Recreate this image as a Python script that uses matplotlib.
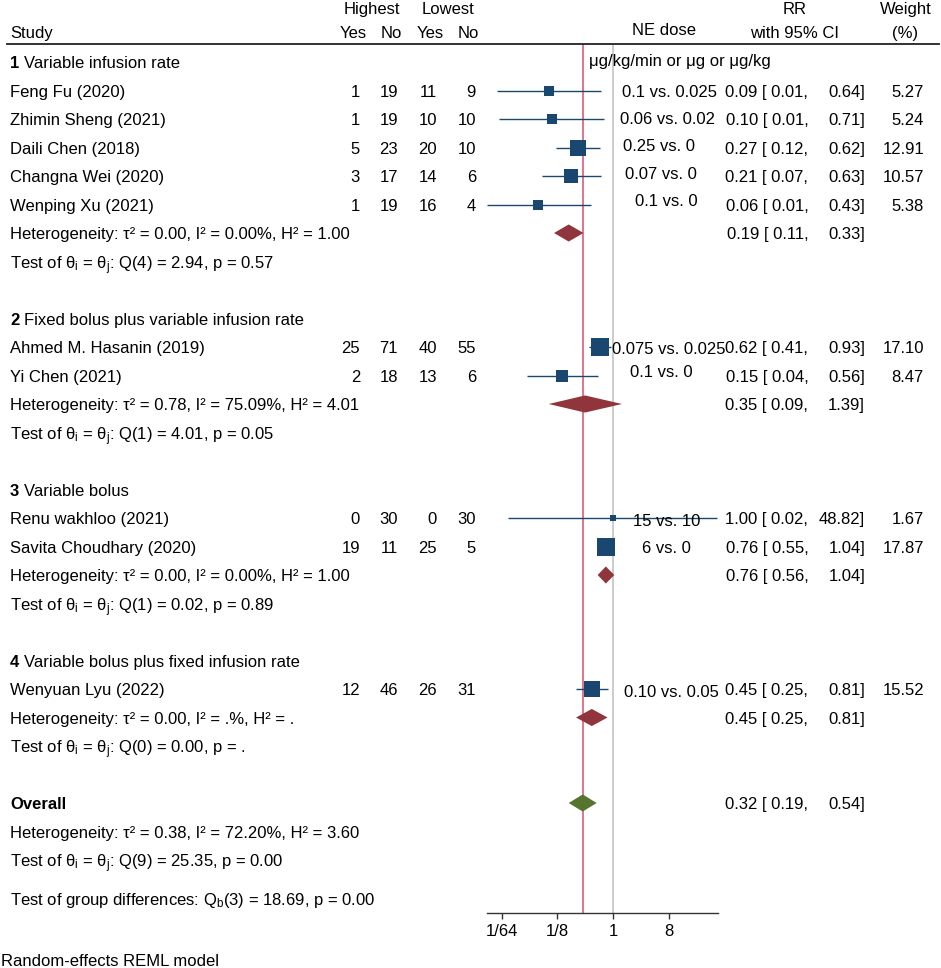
import matplotlib
matplotlib.use('Agg')
import matplotlib.pyplot as plt
from matplotlib.transforms import blended_transform_factory
from matplotlib.lines import Line2D

plt.rcParams['font.family'] = ['Liberation Sans', 'DejaVu Sans']
plt.rcParams['mathtext.fontset'] = 'custom'
plt.rcParams['mathtext.rm'] = 'Liberation Sans'
plt.rcParams['mathtext.it'] = 'Liberation Sans:italic'
plt.rcParams['font.size'] = 12

# ---------------- data ----------------
studies = ["Feng Fu (2020)", "Zhimin Sheng (2021)", "Daili Chen (2018)", "Changna Wei (2020)",
           "Wenping Xu (2021)", "Ahmed M. Hasanin (2019)", "Yi Chen (2021)",
           "Renu wakhloo (2021)", "Savita Choudhary (2020)", "Wenyuan Lyu (2022)"]
study_group = [1, 1, 1, 1, 1, 2, 2, 3, 3, 4]
hi_yes = [1, 1, 5, 3, 1, 25, 2, 0, 19, 12]
hi_no = [19, 19, 23, 17, 19, 71, 18, 30, 11, 46]
lo_yes = [11, 10, 20, 14, 16, 40, 13, 0, 25, 26]
lo_no = [9, 10, 10, 6, 4, 55, 6, 30, 5, 31]
rr = [0.09, 0.10, 0.27, 0.21, 0.06, 0.62, 0.15, 1.00, 0.76, 0.45]
ci_lo = [0.013, 0.014, 0.12, 0.07, 0.009, 0.41, 0.04, 0.02, 0.55, 0.25]
ci_hi = [0.64, 0.71, 0.62, 0.63, 0.43, 0.93, 0.56, 48.82, 1.04, 0.81]
weight = [5.27, 5.24, 12.91, 10.57, 5.38, 17.10, 8.47, 1.67, 17.87, 15.52]
dose = ["0.1 vs. 0.025", "0.06 vs. 0.02", "0.25 vs. 0", "0.07 vs. 0", "0.1 vs. 0",
        "0.075 vs. 0.025", "0.1 vs. 0", "15 vs. 10", "6 vs. 0", "0.10 vs. 0.05"]

groups = ["Variable infusion rate", "Fixed bolus plus variable infusion rate",
          "Variable bolus", "Variable bolus plus fixed infusion rate"]
group_rr = [0.19, 0.35, 0.76, 0.45]
group_lo = [0.11, 0.09, 0.56, 0.25]
group_hi = [0.33, 1.39, 1.04, 0.81]
group_het = ["τ² = 0.00, I² = 0.00%, H² = 1.00", "τ² = 0.78, I² = 75.09%, H² = 4.01",
             "τ² = 0.00, I² = 0.00%, H² = 1.00", "τ² = 0.00, I² = .%, H² = ."]
group_q = ["Q(4) = 2.94, p = 0.57", "Q(1) = 4.01, p = 0.05",
           "Q(1) = 0.02, p = 0.89", "Q(0) = 0.00, p = ."]
overall_rr, overall_lo, overall_hi = 0.32, 0.19, 0.54
overall_het = "τ² = 0.38, I² = 72.20%, H² = 3.60"
overall_q = "Q(9) = 25.35, p = 0.00"
group_diff = r"Q$\mathregular{_b}$(3) = 18.69, p = 0.00"
tick_vals = [1/64, 1/8, 1, 8]
tick_labels = ["1/64", "1/8", "1", "8"]
unit_label = "μg/kg/min or μg or μg/kg"
footnote = "Random-effects REML model"

# ---------------- layout ----------------
W, H = 941, 968
ROW0, ROWH = 62, 28.5          # pixel y of row 0 and row height
AX_LEFT, AX_RIGHT, AX_BOTTOM = 487, 718, 913
NAVY = '#1A476F'
MAROON = '#90353B'
GREEN = '#55752F'
REDLINE = '#DC6A80'
GRAYLINE = '#BEBEBE'
# dose label (center x px, y offset px) - manually positioned in original
dose_pos = [(669.5, 0), (668, -1), (659, -2.5), (661, -3), (666, -4.5),
            (669, 0.5), (661, -4.5), (667, 2.5), (666, 0), (671, 1.5)]


def row_of(px):
    return (px - ROW0) / ROWH


fig = plt.figure(figsize=(W / 100, H / 100), dpi=100)
ax = fig.add_axes([AX_LEFT / W, (H - AX_BOTTOM) / H, (AX_RIGHT - AX_LEFT) / W, AX_BOTTOM / H])
ax.set_xscale('log', base=2)
ax.set_xlim(0.009, 50)
ax.set_ylim(row_of(AX_BOTTOM), row_of(0))
for s in ['top', 'left', 'right']:
    ax.spines[s].set_visible(False)
ax.spines['bottom'].set_color('#333333')
ax.spines['bottom'].set_linewidth(1.0)
ax.set_yticks([])
ax.set_xticks(tick_vals)
ax.set_xticklabels(tick_labels)
ax.minorticks_off()
ax.tick_params(axis='x', direction='out', length=4, width=1, colors='#333333',
               labelcolor='black', labelsize=12, pad=4)
ax.patch.set_alpha(0)

blend = blended_transform_factory(fig.transFigure, ax.transData)


def T(xpx, row, s, ha='left', **kw):
    ax.text(xpx / W, row, s, transform=blend, ha=ha, va='center_baseline', fontsize=12,
            clip_on=False, **kw)


# header
hdr_top, hdr_bot = row_of(8), row_of(32)
T(10, hdr_bot, "Study")
T(371.7, hdr_top, "Highest", ha='center')
T(448, hdr_top, "Lowest", ha='center')
T(367, hdr_bot, "Yes", ha='right')
T(402, hdr_bot, "No", ha='right')
T(444, hdr_bot, "Yes", ha='right')
T(479, hdr_bot, "No", ha='right')
T(663.5, row_of(29), "NE dose", ha='center')
T(795, hdr_top, "RR", ha='center')
T(795, hdr_bot, "with 95% CI", ha='center')
T(905.5, hdr_top, "Weight", ha='center')
T(905.5, hdr_bot, "(%)", ha='center')
hdr_line = row_of(44)
fig.add_artist(Line2D([7 / W, 939 / W], [hdr_line, hdr_line], transform=blend,
                      color='#222222', lw=1.3))

# reference lines
ybot = row_of(AX_BOTTOM)
ax.vlines(1, hdr_line, ybot, color=GRAYLINE, lw=1.1, zorder=1)
ax.vlines(overall_rr, hdr_line, ybot, color=REDLINE, lw=1.3, zorder=1)

T(589, row_of(60), unit_label)


def rr_text(row, est, lo, hi):
    T(808.3, row, f"{est:.2f} [ {lo:.2f},", ha='right')
    T(865, row, f"{hi:.2f}]", ha='right')


def diamond(row, est, lo, hi, color):
    h = 0.3
    ax.fill([lo, est, hi, est], [row, row - h, row, row + h], color=color,
            lw=0, zorder=3)


row = 0
for g, gname in enumerate(groups, start=1):
    T(10, row, str(g), fontweight='bold')
    T(24.3, row, gname)
    row += 1
    for i in range(len(studies)):
        if study_group[i] != g:
            continue
        T(10, row, studies[i])
        T(360, row, str(hi_yes[i]), ha='right')
        T(398, row, str(hi_no[i]), ha='right')
        T(437, row, str(lo_yes[i]), ha='right')
        T(476, row, str(lo_no[i]), ha='right')
        ax.hlines(row, ci_lo[i], ci_hi[i], color=NAVY, lw=1.0, zorder=2)
        ax.scatter([rr[i]], [row], marker='s', s=9.5 * weight[i], color=NAVY,
                   linewidths=0, zorder=4)
        dx, dy = dose_pos[i]
        T(dx, row + dy / ROWH, dose[i], ha='center')
        rr_text(row, rr[i], ci_lo[i], ci_hi[i])
        T(924, row, f"{weight[i]:.2f}", ha='right')
        row += 1
    T(10, row, "Heterogeneity: " + group_het[g - 1])
    diamond(row, group_rr[g - 1], group_lo[g - 1], group_hi[g - 1], MAROON)
    rr_text(row, group_rr[g - 1], group_lo[g - 1], group_hi[g - 1])
    row += 1
    T(10, row, r"Test of θ$\mathregular{_i}$ = θ$\mathregular{_j}$: " + group_q[g - 1])
    row += 2

T(10, row, "Overall", fontweight='bold')
diamond(row, overall_rr, overall_lo, overall_hi, GREEN)
rr_text(row, overall_rr, overall_lo, overall_hi)
row += 1
T(10, row, "Heterogeneity: " + overall_het)
row += 1
T(10, row, r"Test of θ$\mathregular{_i}$ = θ$\mathregular{_j}$: " + overall_q)
row += 1.35
T(10, row, "Test of group differences: " + group_diff)

fig.text(1 / W, 1 - 960 / H, footnote, ha='left', va='center_baseline', fontsize=12)

fig.savefig('out.png', dpi=100)
